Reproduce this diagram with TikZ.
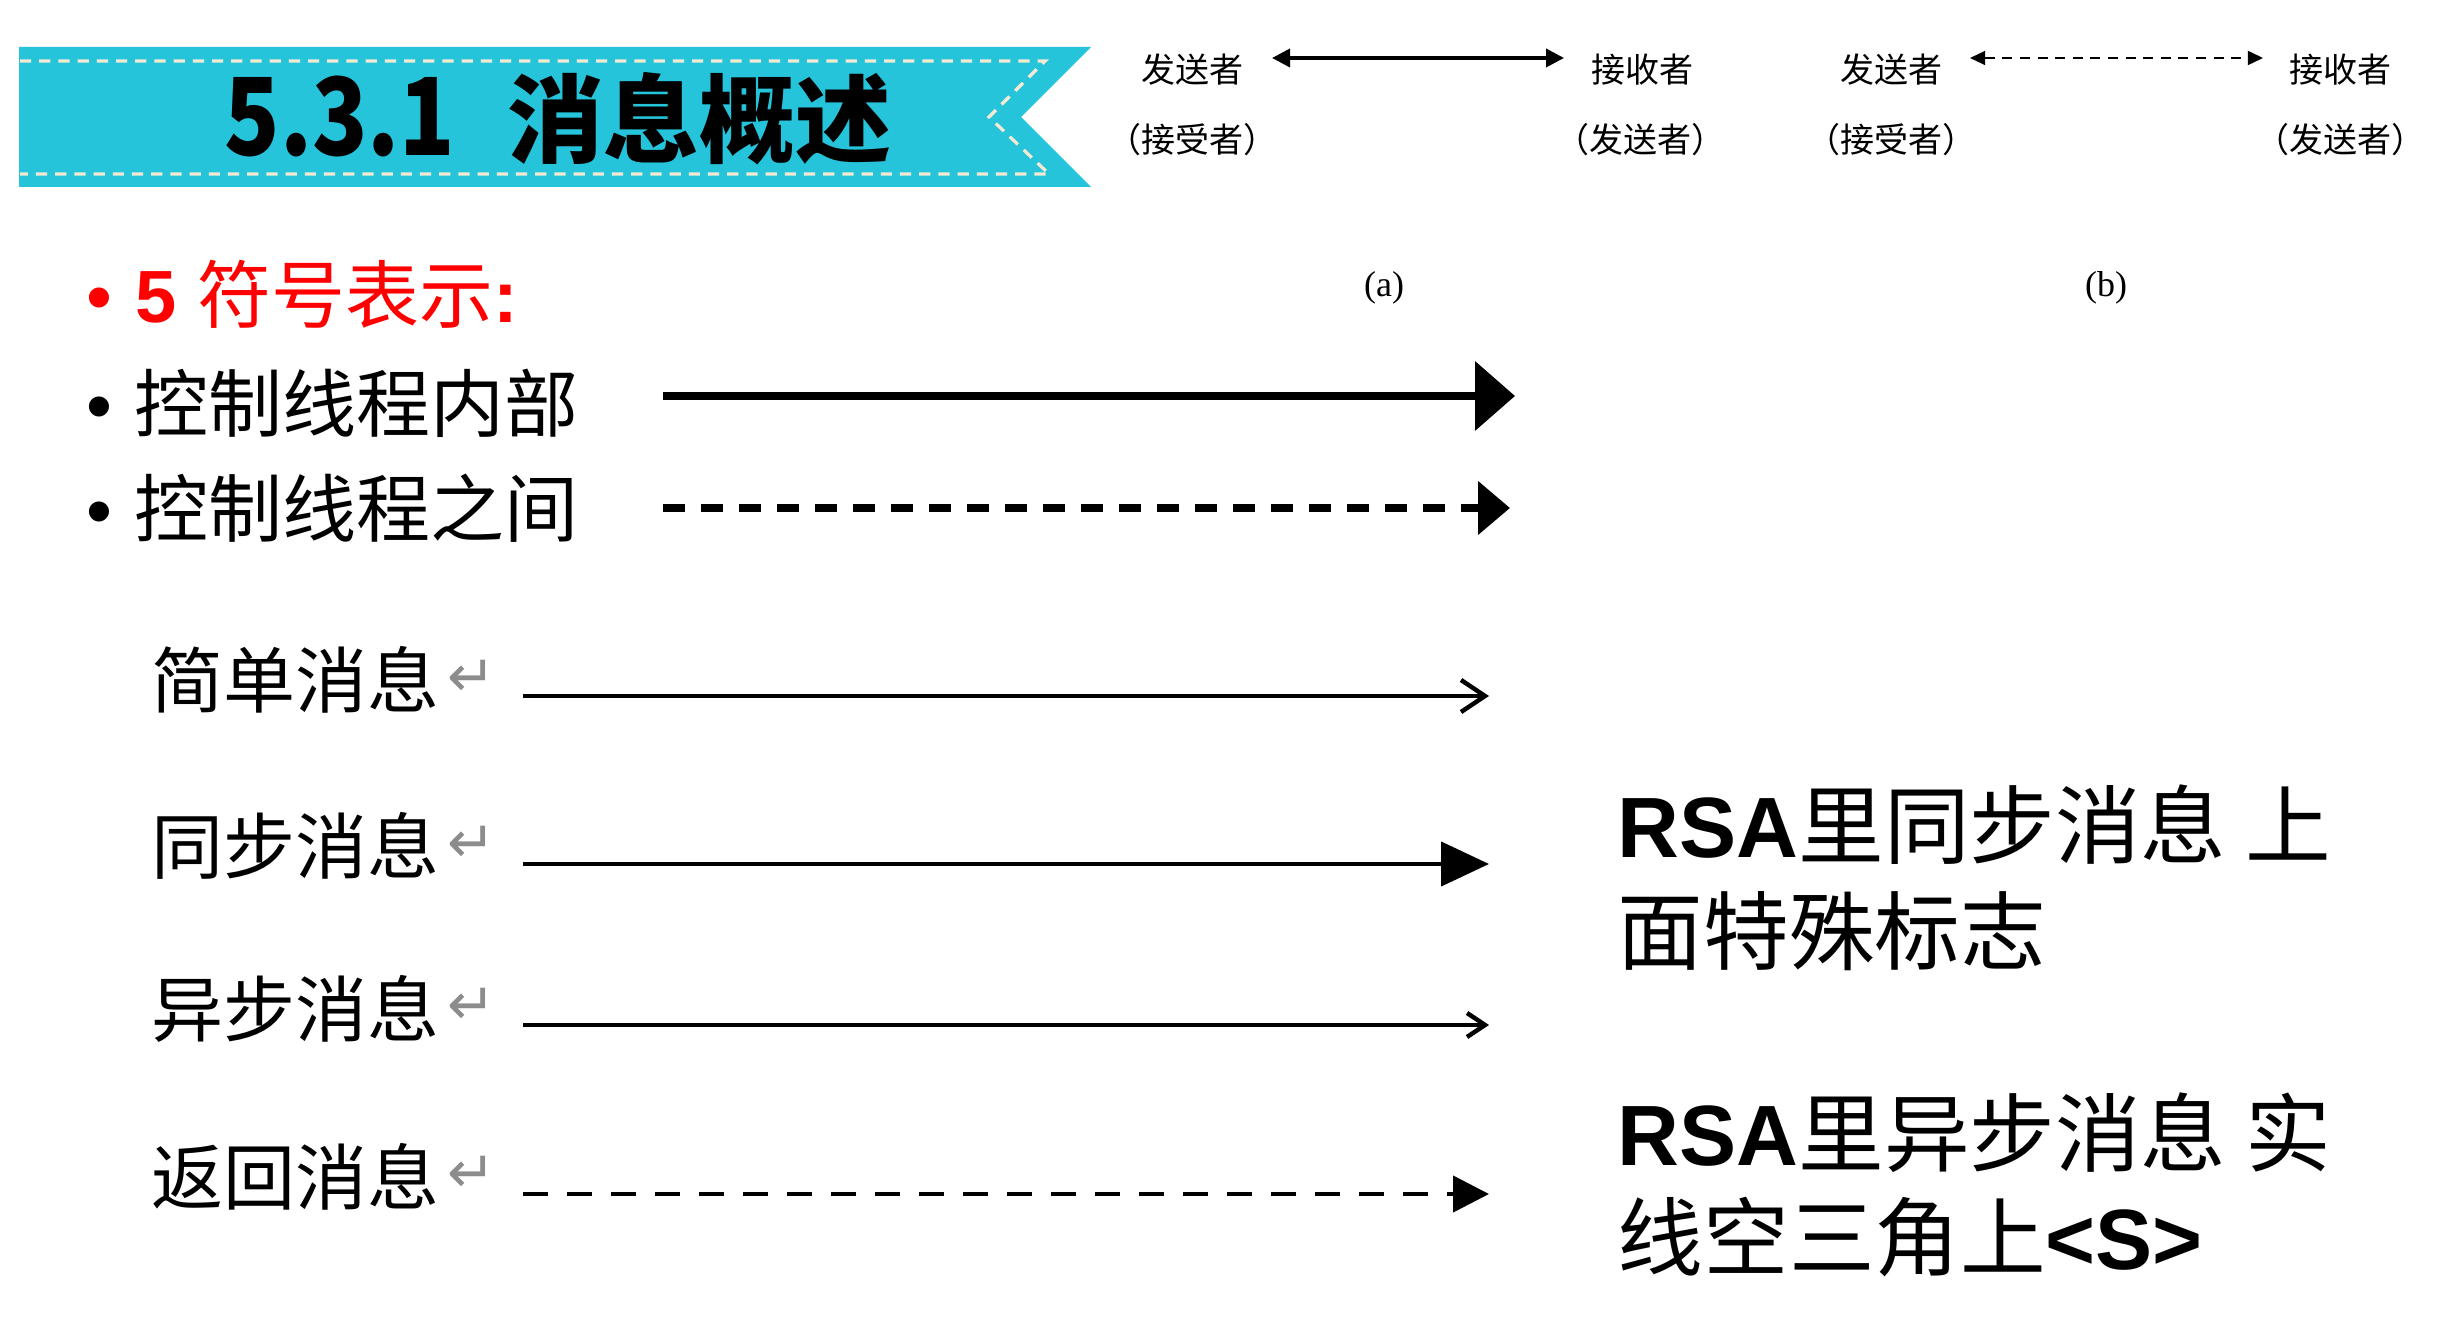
\documentclass[tikz,border=0pt]{standalone}
\usepackage{fontspec}
\usepackage{graphicx}
\setmainfont{Liberation Sans}
\newfontfamily\cjk{Noto Sans CJK SC}
\newfontfamily\capfont{Liberation Serif}
\newfontfamily\symb{DejaVu Sans}
\usetikzlibrary{arrows.meta}

\definecolor{bannercyan}{RGB}{38,196,218}
\definecolor{stitch}{RGB}{242,234,211}
\definecolor{markgrey}{RGB}{140,140,140}

\tikzset{
  lbl/.style={inner sep=0pt, anchor=base west},
  pair/.style={inner sep=0pt, anchor=base, font=\cjk\fontsize{8.5pt}{10pt}\selectfont},
  caption/.style={inner sep=0pt, anchor=base, font=\capfont\fontsize{9pt}{10pt}\selectfont},
  bigtext/.style={lbl, font=\cjk\fontsize{18.5pt}{20pt}\selectfont},
  msgtext/.style={lbl, font=\cjk\fontsize{18pt}{20pt}\selectfont},
  retmark/.style={inner sep=0pt, anchor=center, text=markgrey, font=\symb\fontsize{14.5pt}{14.5pt}\selectfont},
  bulletmark/.style={lbl, font=\fontsize{18.5pt}{20pt}\selectfont},
  note/.style={lbl, font=\fontsize{21.4pt}{24pt}\selectfont},
  msgline/.style={line width=1.1pt},
}

\begin{document}
\begin{tikzpicture}[x=0.25pt,y=-0.25pt]
\fill[white] (0,0) rectangle (2448,1334);
\useasboundingbox (0,0) rectangle (2448,1334);

% title ribbon with a stitched border
\fill[bannercyan] (19,47) -- (1091,47) -- (1021,117) -- (1091,187) -- (19,187) -- cycle;
\draw[stitch, line width=0.8pt, dash pattern=on 2.8pt off 2pt]
  (20,61) -- (1045,61) -- (989,117) -- (1049,174) -- (20,174);
\node[lbl, font=\cjk\bfseries\fontsize{24pt}{24pt}\selectfont] (titlenum) at (224,156) {\scalebox{0.95}[1.12]{5.3.1}};
\node[lbl, font=\cjk\bfseries\fontsize{24pt}{24pt}\selectfont] (titletext) at (507,156) {消息概述};

% (a) and (b): sender / receiver pairs
\node[pair] (sa)  at (1192,83)  {发送者};
\node[pair] (ra)  at (1642,83)  {接收者};
\node[pair] (sa2) at (1192,153) {（接受者）};
\node[pair] (ra2) at (1640,153) {（发送者）};
\node[pair] (sb)  at (1891,83)  {发送者};
\node[pair] (rb)  at (2340,83)  {接收者};
\node[pair] (sb2) at (1891,153) {（接受者）};
\node[pair] (rb2) at (2340,153) {（发送者）};
\node[caption] (capa) at (1384,297) {(a)};
\node[caption] (capb) at (2106,297) {(b)};

\coordinate (aL) at (1272,58);
\coordinate (aR) at (1564,58);
\draw[line width=0.9pt, {Triangle[length=4.5pt,width=4.5pt]}-{Triangle[length=4.5pt,width=4.5pt]}] (aL) -- (aR);
\coordinate (bL) at (1970,58);
\coordinate (bR) at (2263,58);
\draw[line width=0.5pt, dash pattern=on 2.5pt off 1.9pt,
  {Triangle[length=3.8pt,width=3.5pt]}-{Triangle[length=3.8pt,width=3.5pt]}] (bL) -- (bR);

% bullet list
\node[bulletmark, text=red] (bu0) at (86,323) {•};
\node[lbl, text=red, font=\fontsize{18.5pt}{20pt}\selectfont] (head) at (135,323)
  {{\bfseries 5} {\cjk 符号表示}{\bfseries :}};
\node[bulletmark] (bu1) at (86,432) {•};
\node[bigtext] (inner) at (134,432) {控制线程内部};
\node[bulletmark] (bu2) at (86,537) {•};
\node[bigtext] (between) at (134,537) {控制线程之间};

\coordinate (in1) at (663,396);
\coordinate (in2) at (1515,396);
\draw[line width=1.9pt, -{Triangle[length=10pt,width=17pt]}] (in1) -- (in2);
\coordinate (bt1) at (663,508);
\coordinate (bt2) at (1510,508);
\draw[line width=2pt, dash pattern=on 5.5pt off 4pt, -{Triangle[length=8pt,width=13pt]}] (bt1) -- (bt2);

% message kinds
\node[msgtext] (m1) at (151,708)  {简单消息};
\node[retmark] (r1) at (472,678)  {↵};
\node[msgtext] (m2) at (151,874)  {同步消息};
\node[retmark] (r2) at (472,844)  {↵};
\node[msgtext] (m3) at (151,1036) {异步消息};
\node[retmark] (r3) at (472,1006) {↵};
\node[msgtext] (m4) at (151,1204) {返回消息};
\node[retmark] (r4) at (472,1174) {↵};

\coordinate (s1) at (523,696);  \coordinate (e1) at (1489,696);
\coordinate (s2) at (523,864);  \coordinate (e2) at (1489,864);
\coordinate (s3) at (523,1025); \coordinate (e3) at (1489,1025);
\coordinate (s4) at (523,1194); \coordinate (e4) at (1489,1194);
\draw[msgline, -{Straight Barb[length=6pt,width=8pt]}] (s1) -- (e1);
\draw[msgline, -{Triangle[length=12pt,width=11pt]}] (s2) -- (e2);
\draw[msgline, -{Straight Barb[length=4.5pt,width=6pt]}] (s3) -- (e3);
\draw[msgline, dash pattern=on 6.25pt off 4.75pt, -{Triangle[length=9pt,width=9pt]}] (s4) -- (e4);

% notes
\node[note] (n1) at (1617,858)  {{\bfseries RSA}{\cjk 里同步消息 上}};
\node[note] (n2) at (1617,963)  {{\cjk 面特殊标志}};
\node[note] (n3) at (1617,1165) {{\bfseries RSA}{\cjk 里异步消息 实}};
\node[note] (n4) at (1617,1269) {{\cjk 线空三角上}{\bfseries <S>}};
\end{tikzpicture}
\end{document}
